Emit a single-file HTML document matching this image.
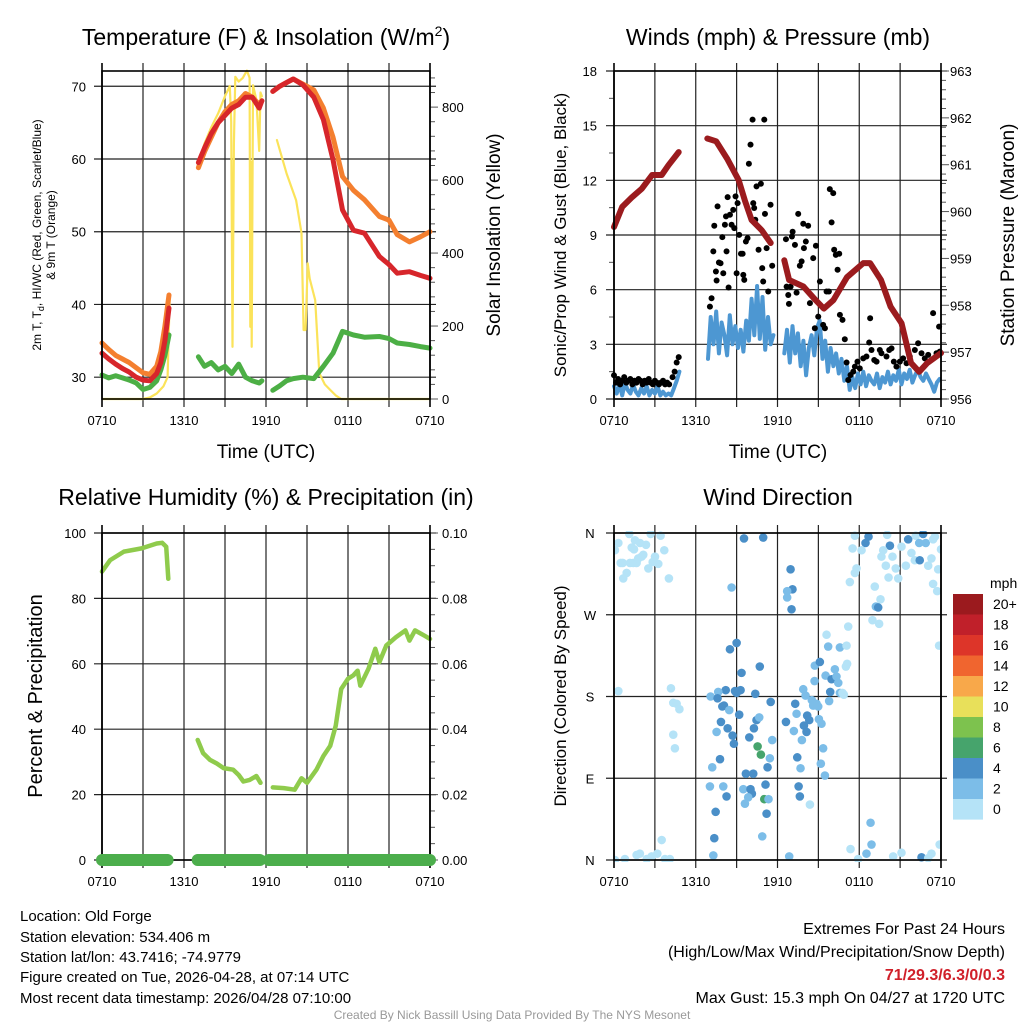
<!DOCTYPE html>
<html><head><meta charset="utf-8">
<style>
html,body{margin:0;padding:0;background:#fff;}
svg text{font-family:"Liberation Sans",sans-serif;fill:#000;}
</style></head>
<body>
<svg id="chart" xmlns="http://www.w3.org/2000/svg" width="1024" height="1024" viewBox="0 0 1024 1024">
<rect x="0" y="0" width="1024" height="1024" fill="#fff"/>
<text x="266" y="45" font-size="23" text-anchor="middle">Temperature (F) &amp; Insolation (W/m<tspan dy="-9" font-size="14">2</tspan><tspan dy="9">)</tspan></text>
<text x="778" y="45" font-size="23" text-anchor="middle">Winds (mph) &amp; Pressure (mb)</text>
<text x="266" y="505" font-size="23" text-anchor="middle">Relative Humidity (%) &amp; Precipitation (in)</text>
<text x="778" y="505" font-size="23" text-anchor="middle">Wind Direction</text>

<text x="266" y="458" font-size="19" text-anchor="middle">Time (UTC)</text>
<text x="778" y="458" font-size="19" text-anchor="middle">Time (UTC)</text>

<text transform="translate(41,235) rotate(-90)" font-size="12" text-anchor="middle">2m T, T<tspan dy="3" font-size="9">d</tspan><tspan dy="-3">, HI/WC (Red, Green, Scarlet/Blue)</tspan></text>
<text transform="translate(55,235) rotate(-90)" font-size="12" text-anchor="middle">&amp; 9m T (Orange)</text>
<text transform="translate(500,235) rotate(-90)" font-size="19" text-anchor="middle">Solar Insolation (Yellow)</text>
<text transform="translate(566,235) rotate(-90)" font-size="17" text-anchor="middle">Sonic/Prop Wind &amp; Gust (Blue, Black)</text>
<text transform="translate(1014,235) rotate(-90)" font-size="19" text-anchor="middle">Station Pressure (Maroon)</text>
<text transform="translate(42,696) rotate(-90)" font-size="20" text-anchor="middle">Percent &amp; Precipitation</text>
<text transform="translate(566,696) rotate(-90)" font-size="17" text-anchor="middle">Direction (Colored By Speed)</text>

<g id="layer"></g>

<g font-size="15">
<text x="20" y="921">Location: Old Forge</text>
<text x="20" y="942">Station elevation: 534.406 m</text>
<text x="20" y="962">Station lat/lon: 43.7416; -74.9779</text>
<text x="20" y="982">Figure created on Tue, 2026-04-28, at 07:14 UTC</text>
<text x="20" y="1003">Most recent data timestamp: 2026/04/28 07:10:00</text>
</g>
<g font-size="16" text-anchor="end">
<text x="1005" y="934">Extremes For Past 24 Hours</text>
<text x="1005" y="957">(High/Low/Max Wind/Precipitation/Snow Depth)</text>
<text x="1005" y="980" font-weight="bold" style="fill:#d0202a">71/29.3/6.3/0/0.3</text>
<text x="1005" y="1003">Max Gust: 15.3 mph On 04/27 at 1720 UTC</text>
</g>
<text x="512" y="1019" font-size="12" text-anchor="middle" style="fill:#999">Created By Nick Bassill Using Data Provided By The NYS Mesonet</text>
</svg>
<script>
// ---- data ----
var timeTickLabels = ["0710","1310","1910","0110","0710"];
var tempLeftTicks = [30,40,50,60,70];
var solarTicks = [0,200,400,600,800];
var windTicks = [0,3,6,9,12,15,18];
var pressTicks = [956,957,958,959,960,961,962,963];
var rhTicks = [0,20,40,60,80,100];
var precipTicks = ["0.00","0.02","0.04","0.06","0.08","0.10"];
var dirTickLabels = ["N","E","S","W","N"];
var dirTickVals = [0,90,180,270,360];

var tempHours = [0,0.5,1,1.5,2,2.5,3,3.5,4,4.3,4.6,4.9,null,7.05,7.5,8,8.5,9,9.5,10,10.5,11,11.5,11.7,null,12.5,13,13.5,14,14.7,15.5,16.2,16.9,17.6,18.4,19.2,20.3,21,21.6,22.5,23.3,24];
var tempRed = [33.3,32.5,31.8,31.2,30.7,30.0,29.6,29.5,30.5,32,35,39.5,null,59.5,61.5,63.5,65,66,67,67.5,68.5,68.5,67,68,null,69.3,70,70.5,71,70.2,68.5,65.4,59.9,53,50.2,49.8,46.6,45.5,44.3,44.5,44,43.6];
var tempOrange = [34.7,33.8,33,32.5,32,31.3,30.6,30.4,31.5,33.5,37,41.3,null,58.8,61,63,65,66.5,67.5,68,69,68.5,67.5,68,null,69.3,70,70.5,71,70.3,69.5,67,63,57.6,55.7,54.4,52.1,51.6,49.6,48.6,49.3,50];
var tempDew = [30.3,29.9,30.2,29.9,29.6,29.2,28.3,28.6,29.5,31,33,35.8,null,32.8,31.5,32,31,31.5,30.5,31.8,30,29.5,29.2,29.5,null,28.2,28.8,29.5,29.8,30,29.8,31.5,33.3,36.3,35.8,35.5,35.6,35.3,34.7,34.5,34.2,34];

var solarHours = [0,1,2,3,3.5,4,4.5,4.8,4.95,null,7.05,7.5,8,8.5,9,9.35,9.45,9.55,9.65,9.75,10,10.3,10.6,10.8,10.85,10.9,10.95,11.05,11.3,11.5,11.6,11.7,null,12.8,13.5,14.2,14.6,14.75,14.9,15.05,15.2,15.6,15.9,16.3,16.7,17.1,17.5,18,20,22,24];
var solarVals = [0,0,0,0,4,15,35,60,280,null,647,700,745,783,830,858,760,143,700,883,870,880,900,880,198,650,143,860,820,680,840,830,null,710,619,545,455,189,189,372,330,271,71,40,25,10,0,0,0,0,0];

var pressHours = [0,0.6,1.3,2.05,2.8,3.5,4.0,4.75,null,6.85,7.5,8.3,9.15,9.6,10.1,10.85,11.5,null,12.5,12.85,13.9,14.8,15.4,16.1,17.1,18.3,18.8,19.6,20.3,21.1,21.8,22.4,23,24];
var pressVals = [959.67,960.1,960.3,960.49,960.78,960.78,960.99,961.27,null,961.56,961.5,961.13,960.67,960.24,959.82,959.6,959.33,null,958.96,958.54,958.4,958.11,957.93,958.11,958.6,958.9,958.9,958.54,957.97,957.62,956.77,956.58,956.77,956.98];

var windStarts = [0,6.9,12.5];
var windStep = 0.2;
var windSeg1 = [0.7,0.3,0.8,0.2,0.9,0.5,0.3,0.8,0.4,0.2,0.6,0.3,0.7,0.2,0.5,0.3,0.7,0.2,0.4,0.2,0.3,0.2,0.6,1.0,1.5];
var windSeg2 = [2.2,4.5,3.0,4.8,2.5,4.2,3.5,2.4,4.6,3.0,4.0,2.8,3.8,2.6,4.3,3.2,5.5,3.5,6.2,3.3,5.6,2.7,4.5,3.0,3.5];
var windSeg3 = [2.5,3.8,2.0,4.0,2.5,3.6,1.8,3.2,1.3,2.8,3.5,2.4,3.9,4.3,2.2,3.2,1.5,2.8,1.8,2.5,1.4,2.2,1.0,1.8,0.5,1.2,0.6,1.4,0.8,1.5,0.7,1.3,1.0,0.8,1.4,0.6,1.2,0.9,1.5,0.8,1.3,1.0,1.6,0.8,1.4,1.1,1.6,0.9,1.3,1.6,1.2,1.0,1.4,1.1,0.8,0.4,0.9,1.1];

var gustHours = [0,0.15,0.3,0.45,0.6,0.75,0.9,1.05,1.2,1.35,1.5,1.65,1.8,1.95,2.1,2.25,2.4,2.55,2.7,2.85,3.0,3.15,3.3,3.45,3.6,3.75,3.9,4.05,4.3,4.45,4.6,4.75,
7.04,7.16,7.29,7.36,7.48,7.53,7.60,7.70,7.82,7.95,8.02,8.14,8.22,8.26,8.34,8.41,8.51,8.63,8.75,8.83,8.92,9.00,9.07,9.19,9.32,9.44,9.49,9.56,9.68,9.80,9.90,10.02,10.17,10.22,10.29,10.37,10.46,10.61,10.78,10.88,10.95,11.03,11.08,11.20,11.32,11.49,11.61,
12.62,12.67,12.79,12.84,12.96,13.06,13.11,13.28,13.40,13.52,13.64,13.77,13.89,13.94,14.08,14.25,14.38,14.62,14.74,14.82,14.99,15.11,15.35,15.48,15.60,15.77,15.84,15.97,16.09,16.16,16.28,16.41,16.53,16.58,16.77,16.94,17.07,17.19,17.36,17.56,17.68,17.87,18.04,18.29,18.53,18.73,18.80,18.90,19.10,19.27,19.51,19.63,20.00,20.20,20.37,20.54,20.73,20.98,21.22,21.47,21.71,22.08,22.32,22.57,22.81,23.06,23.42,23.67,23.86,23.91];
var gustVals = [1.3,0.9,1.1,0.8,1.0,1.2,0.9,1.0,1.1,0.8,1.0,0.9,1.1,1.0,0.8,1.0,0.9,1.1,0.9,0.8,1.0,0.9,0.8,0.9,1.0,0.8,0.9,0.8,1.2,1.5,2.0,2.3,
5.07,5.53,8.10,9.51,7.00,6.50,10.57,7.49,7.45,8.88,6.90,9.56,10.02,8.10,11.08,6.12,10.11,9.56,10.38,9.38,11.12,6.90,10.75,9.01,7.97,7.97,6.81,6.54,8.64,8.83,12.91,13.96,15.33,10.75,10.48,9.84,11.67,8.19,11.81,7.18,6.45,15.33,10.16,8.28,5.90,10.66,7.31,
8.77,6.17,5.71,5.22,6.17,8.92,9.18,8.46,5.84,10.16,7.31,7.55,9.62,8.28,8.64,9.51,5.26,7.73,3.88,8.41,4.52,6.45,4.07,3.88,5.90,5.90,11.52,9.69,11.30,8.19,7.91,7.09,7.97,4.62,4.34,3.28,2.00,1.04,1.32,1.50,1.78,2.05,1.68,2.23,2.33,3.10,4.43,2.69,2.14,2.05,2.69,2.51,2.33,2.69,2.78,2.05,1.78,2.05,2.23,1.96,2.33,2.69,3.06,2.51,2.23,2.42,4.71,2.51,3.97,2.60];

var rhHours = [0,0.6,1.6,2.9,4.0,4.4,4.7,4.85,null,7.0,7.4,7.9,8.4,8.9,9.6,10.0,10.35,10.8,11.3,11.6,null,12.5,13.3,14.1,14.6,15.0,15.7,16.2,16.7,17.1,17.5,18.0,18.4,18.7,18.9,19.5,20.0,20.3,20.8,21.5,22.2,22.5,22.9,23.6,24];
var rhVals = [88.2,91.7,94.3,95.3,96.8,97,95.8,86,null,36.7,32.7,30.6,29.5,28.1,27.6,26,24,24.5,25.7,23.6,null,22.2,22,21.5,25,23.6,27.7,31.8,34.9,41,52.3,55.4,56.5,57.9,53.3,58.5,64.6,60.5,65.6,68.1,70.2,67.1,70.2,68.6,67.6];
var precipHours = [0,4.8,null,7.0,11.55,null,12.2,24];
var precipVals = [0,0,null,0,0,null,0,0];

var dirHours = [0.07,0.32,0.49,0.68,0.93,1.12,1.30,1.42,1.54,1.66,1.78,1.91,2.03,2.15,2.35,2.52,2.69,2.84,3.01,3.25,3.42,3.69,4.03,0.64,1.17,1.47,
0.07,0.8,1.66,1.9,2.4,2.76,3.18,3.5,3.74,4.1,0.32,4.18,4.35,4.6,4.8,4.35,4.47,
9.54,10.95,8.63,12.96,13.1,12.71,12.71,13.03,9.0,8.51,10.7,9.36,8.2,7.65,7.09,7.6,8.88,9.29,9.0,10.37,11.5,8.07,7.95,8.46,9.19,10.46,10.66,10.27,7.85,7.53,8.34,8.7,8.8,9.93,11.61,10.54,10.78,11.44,7.78,7.21,11.27,13.69,13.45,9.68,10.22,7.04,8.02,8.26,9.49,10.02,10.12,9.85,9.61,11.12,11.03,11.34,11.2,13.55,13.64,14.38,7.46,7.36,10.88,7.29,12.86,
12.62,13.3,13.4,13.2,13.79,13.94,14.13,14.18,14.33,13.89,14.06,14.52,14.62,14.87,14.99,15.04,15.23,15.35,15.18,15.48,14.72,14.74,15.11,15.53,15.79,15.87,15.97,16.21,16.33,16.46,16.58,16.77,16.87,17.02,17.11,15.6,15.72,16.58,17.07,17.19,
17.68,18.68,18.46,17.51,18.17,17.8,17.68,17.31,19.14,19.56,19.22,19.39,18.97,19.46,20.05,20.25,19.76,19.63,19.95,20.15,20.44,20.68,20.86,21.1,21.42,21.59,21.83,22.08,22.15,22.4,22.44,22.69,22.88,23.06,23.3,23.42,23.55,23.79,23.42,23.72,24.0,23.86,23.9,
17.36,17.92,18.53,18.9,18.83,20.49,21.1,22.57,23.06,23.3];
var dirVals = [341,349,327,310,316,359,344,327,352,327,332,349,334,336,347,321,359,328,334,326,357,341,310,327,327,342,
0,1,5.5,7,1,4,7,22,1,1,186,189,173,172,166,138,123,
354,355,300,320,298,296,289,276,239,232,213,206,187,185,180,178,186,187,184,183,174,170,169,165,160,154,157,145,152,141,145,137,128,135,132,125,116,112,111,102,102,101,113,95,95,81,81,70,78,78,73,69,62,83,67,67,51,81,70,61,53,24,26,5,4,
152,172,161,142,132,148,141,159,154,188,181,176,170,172,169,155,150,123,106,93,197,214,218,203,175,185,199,210,202,195,184,184,182,213,216,248,235,234,236,257,
357,356,349,343,341,321,316,306,301,287,279,278,264,260,358,346,341,334,324,311,334,321,310,345,324,353,338,330,357,349,330,359,349,324,332,353,356,320,304,296,342,236,17,
12,1,7,17,41,4,8,3,2,7];
var dirSpeed = [1,1,1,1,1,1,1,1,1,1,1,1,1,1,1,1,1,1,1,1,1,1,1,1,1,1,
1,1,1,1,1,1,1,1,1,1,1,1,1,1,1,1,1,
5,5,3,5,5,3,3,5,5,5,5,5,5,3,3,5,5,5,5,5,5,5,5,3,5,5,3,5,5,3,5,5,5,5,3,7,7,3,5,3,5,3,5,5,5,3,3,5,3,5,5,3,3,5,7,3,5,5,5,1,5,5,3,3,3,
5,5,3,3,3,5,5,5,5,3,3,3,3,3,3,3,3,3,3,3,3,3,5,3,3,5,5,3,3,3,3,1,1,1,1,1,3,3,1,1,
1,5,5,1,1,1,1,1,1,1,3,5,1,1,1,5,1,1,1,1,1,1,1,1,1,5,1,1,1,3,5,5,3,1,1,1,1,1,1,1,1,1,1,
1,1,3,3,3,1,1,5,1,1];

var legendLabels = ["20+","18","16","14","12","10","8","6","4","2","0"];
var legendColors = ["#9b1a1e","#c0202a","#dd3529","#f0652f","#f8a84a","#e8e05a","#7dc24e","#46a46c","#4a8fc8","#7cbde8","#b5e3f7"];

// ---- drawing ----
var NS = "http://www.w3.org/2000/svg";
var layer = document.getElementById("layer");
function mk(tag, attrs, parent){
  var e = document.createElementNS(NS, tag);
  for (var k in attrs) e.setAttribute(k, attrs[k]);
  (parent || layer).appendChild(e);
  return e;
}
function panel(x0,x1,y0,y1){ return {x0:x0,x1:x1,y0:y0,y1:y1,
  X:function(h){return x0 + h/24*(x1-x0);}}; }
var P1 = panel(102,430,71,399), P2 = panel(614,941,71,399), P3 = panel(102,430,533,860), P4 = panel(614,941,533,860);
function lin(d0,d1,p0,p1){ return function(v){ return p0 + (v-d0)/(d1-d0)*(p1-p0); }; }
var yTemp = lin(27,72.1,399,71), ySolar = lin(0,899,399,71);
var yWind = lin(0,18,399,71), yPress = lin(956,963,399,71);
var yRH = lin(0,100,860,533), yDir = lin(0,360,860,533);

function grid(P, yScale, gridVals, name){
  var g = mk("g", {});
  
  
  for (var h=3; h<24; h+=3) mk("line",{x1:P.X(h),x2:P.X(h),y1:P.y0-8,y2:P.y1+8,stroke:"#222","stroke-width":1.2},g);
  gridVals.forEach(function(v){ var y=yScale(v); mk("line",{x1:P.x0-8,x2:P.x1+6,y1:y,y2:y,stroke:"#222","stroke-width":1.2},g); });
}
function frame(P, name){
  var r = mk("rect",{x:P.x0,y:P.y0,width:P.x1-P.x0,height:P.y1-P.y0,fill:"none",stroke:"#000","stroke-width":1.6});
  
  
  mk("line",{x1:P.x0,x2:P.x0,y1:P.y0-8,y2:P.y1+8,stroke:"#000","stroke-width":1.6});
  mk("line",{x1:P.x1,x2:P.x1,y1:P.y0-8,y2:P.y1+8,stroke:"#000","stroke-width":1.6});
}
function xLabels(P, name){
  var g = mk("g", {"font-size":13,"text-anchor":"middle"});
  
  
  timeTickLabels.forEach(function(t,i){ var e=mk("text",{x:P.X(i*6),y:P.y1+26},g); e.textContent=t; });
}
function yLabels(vals, labels, x, scale, anchor, name){
  var g = mk("g", {"font-size":13,"text-anchor":anchor});
  
  
  vals.forEach(function(v,i){ var e=mk("text",{x:x,y:scale(v)+5},g); e.textContent=labels[i]; });
}
function rightTicks(P, scale, d0, d1, step, majorEvery){
  var n = Math.round((d1-d0)/step);
  for (var i=0;i<=n;i++){ var v=d0+i*step; var y=scale(v);
    var L = (i%majorEvery===0)?8:5;
    mk("line",{x1:P.x1,x2:P.x1+L,y1:y,y2:y,stroke:"#555","stroke-width":1}); }
}
function series(P, hours, vals, scale, color, width, name){
  var d="", pen=false;
  for (var i=0;i<hours.length;i++){
    if (hours[i]===null || vals[i]===null){ pen=false; continue; }
    d += (pen?"L":"M") + P.X(hours[i]).toFixed(1) + "," + scale(vals[i]).toFixed(1);
    pen=true;
  }
  var p = mk("path",{d:d,fill:"none",stroke:color,"stroke-width":width,"stroke-linejoin":"round","stroke-linecap":"round"});
  
  
  return p;
}
function clip(P,id){ var cp = mk("clipPath",{id:id}); mk("rect",{x:P.x0,y:P.y0-2,width:P.x1-P.x0,height:P.y1-P.y0+4},cp); }

// Panel 1
grid(P1, yTemp, tempLeftTicks, "temp");
rightTicks(P1, ySolar, 0, 880, 40, 5);
clip(P1,"c1");
var s;
s = series(P1, solarHours, solarVals, ySolar, "#fbe35a", 2.2, "solar-line"); s.setAttribute("clip-path","url(#c1)");
series(P1, tempHours, tempDew, yTemp, "#4caf45", 5, "dewpoint-line");
series(P1, tempHours, tempOrange, yTemp, "#f47f2f", 5, "temp-9m-line");
series(P1, tempHours, tempRed, yTemp, "#d7262b", 5, "temp-2m-line");
frame(P1,"temp");
xLabels(P1,"temp");
yLabels(tempLeftTicks, tempLeftTicks, 86, yTemp, "end", "temp-y-tick-labels");
yLabels(solarTicks, solarTicks, 442, ySolar, "start", "solar-y-tick-labels");

// Panel 2
grid(P2, yWind, windTicks, "wind");
for (var v=1.5; v<18; v+=3) mk("line",{x1:P2.x0-5,x2:P2.x0,y1:yWind(v),y2:yWind(v),stroke:"#555","stroke-width":1});
rightTicks(P2, yPress, 956, 963, 0.2, 5);
var segs=[windSeg1,windSeg2,windSeg3];
segs.forEach(function(seg,k){
  var hh = seg.map(function(_,i){ return windStarts[k] + i*windStep; });
  series(P2, hh, seg, yWind, "#4d97d2", 4, "wind-speed-line-" + (k+1));
});
var gg = mk("g",{});


gustHours.forEach(function(h,i){
  var c = mk("circle",{cx:P2.X(h),cy:yWind(gustVals[i]),r:3,fill:"#000"},gg);
  
  
});
series(P2, pressHours, pressVals, yPress, "#9b1b1e", 6, "pressure-line");
frame(P2,"wind");
xLabels(P2,"wind");
yLabels(windTicks, windTicks, 597, yWind, "end", "wind-y-tick-labels");
yLabels(pressTicks, pressTicks, 950, yPress, "start", "pressure-y-tick-labels");

// Panel 3
grid(P3, yRH, rhTicks, "rh");
rightTicks(P3, yRH, 0, 100, 5, 4);
series(P3, rhHours, rhVals, yRH, "#8fcb4c", 4.5, "rh-line");
frame(P3,"rh");
var yPrecip = lin(0,0.10,860,533);
series(P3, precipHours, precipVals, yPrecip, "#4cae4c", 12, "precip-line");
xLabels(P3,"rh");
yLabels(rhTicks, rhTicks, 86, yRH, "end", "rh-y-tick-labels");
yLabels(rhTicks, precipTicks, 442, yRH, "start", "precip-y-tick-labels");

// Panel 4
grid(P4, yDir, dirTickVals, "direction");
clip(P4,"c4");
var dg = mk("g",{"clip-path":"url(#c4)"});


dirHours.forEach(function(h,i){
  var bin = Math.min(10, Math.floor(dirSpeed[i]/2));
  var c = mk("circle",{cx:P4.X(h),cy:yDir(dirVals[i]),r:4.3,fill:legendColors[10-bin]},dg);
  
  
});
frame(P4,"direction");
xLabels(P4,"direction");
yLabels(dirTickVals, dirTickLabels, 590, yDir, "middle", "direction-y-tick-labels");

// Legend
var lg = mk("g",{"font-size":14});


var lt = mk("text",{x:990,y:588},lg); lt.textContent="mph";
legendLabels.forEach(function(lab,i){
  var r = mk("rect",{x:953,y:594+i*20.5,width:30,height:20.6,fill:legendColors[i]},lg);
  
  
  var t = mk("text",{x:993,y:594+i*20.5+15},lg); t.textContent=lab;
});
</script>
</body></html>
